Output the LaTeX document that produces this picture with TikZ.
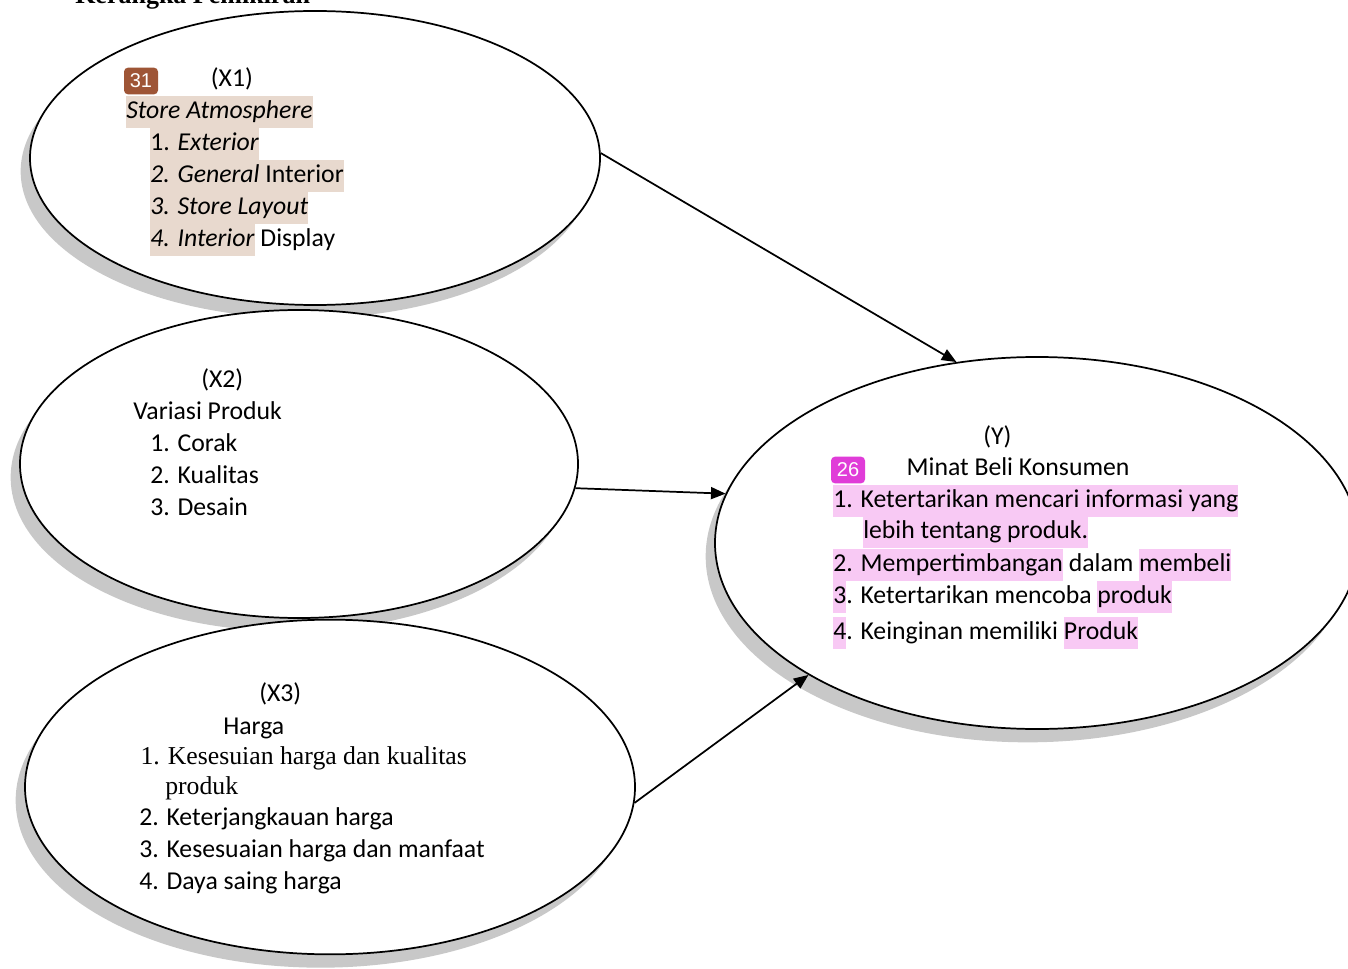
\documentclass[tikz,border=0pt]{standalone}
\usepackage{fontspec}
\setmainfont{Carlito}
\newfontfamily\serifface{Liberation Serif}
\newfontfamily\tagface{Liberation Sans}
\usetikzlibrary{shapes.geometric, arrows.meta, shadows}
\usetikzlibrary{positioning}
\definecolor{hlbrown}{HTML}{E8D9CE}
\definecolor{tagbrown}{HTML}{9E5536}
\definecolor{hlpink}{HTML}{F8C9F4}
\definecolor{tagpink}{HTML}{E03CD8}
\definecolor{shadowgray}{HTML}{C8C8C8}
\newcommand{\hlb}[1]{{\setlength{\fboxsep}{0pt}\colorbox{hlbrown}{\strut #1}}}
\newcommand{\hlp}[1]{{\setlength{\fboxsep}{0pt}\colorbox{hlpink}{\strut #1}}}
\tikzstyle{construct} = [ellipse, draw=black, line width=1.3pt, fill=white, inner sep=0pt, general shadow={fill=shadowgray, shadow xshift=-7pt, shadow yshift=-10pt}]
\tikzstyle{indicators} = [anchor=north west, inner sep=0pt, align=left, font=\fontsize{19.3}{24}\selectfont]
\tikzstyle{tag} = [rectangle, rounded corners=3pt, minimum width=25.5pt, minimum height=20pt, inner sep=0pt, text=white, font=\tagface\fontsize{15}{15}\selectfont]
\tikzstyle{arrow} = [line width=1.3pt, -{Triangle[length=11pt, width=9pt]}]

\begin{document}
\begin{tikzpicture}[x=0.75pt, y=-0.75pt]
        \useasboundingbox (0,0) rectangle (1348,969);
        \clip (0,0) rectangle (1348,969);

        \node (heading) [anchor=base west, inner sep=0pt, font=\serifface\bfseries\fontsize{19.5}{24}\selectfont] at (75,4) {Kerangka Pemikiran};

        \node (xone) [construct, minimum width=427.5pt, minimum height=220.5pt] at (315,158) {};
        \node (xtwo) [construct, minimum width=418.5pt, minimum height=231pt] at (299,464) {};
        \node (xthree) [construct, minimum width=457.5pt, minimum height=251pt] at (330,787) {};
        \node (yvar) [construct, minimum width=483pt, minimum height=279pt] at (1037,543) {};

        \node (xonetext) [indicators] at (124,63.6) {\strut\hspace*{65pt}(X1)\\
                \hspace*{1.5pt}\hlb{\textit{Store Atmosphere}}\\
                \hspace*{19.5pt}\hlb{1. \textit{Exterior}}\\
                \hspace*{19.5pt}\hlb{\textit{2. General} Interior}\\
                \hspace*{19.5pt}\hlb{\textit{3. Store Layout}}\\
                \hspace*{19.5pt}\hlb{\textit{4. Interior}} Display};
        \node (xonetag) [tag, fill=tagbrown] at (141,81) {31};

        \node (xtwotext) [indicators] at (133,364.6) {\strut\hspace*{51pt}(X2)\\
                \strut Variasi Produk\\
                \strut\hspace*{12.75pt}1. Corak\\
                \strut\hspace*{12.75pt}2. Kualitas\\
                \strut\hspace*{12.75pt}3. Desain};

        \node (xthreetext) [indicators] at (139,678.6) {\strut\hspace*{90pt}(X3)\\[0.75pt]
                \strut\hspace*{63pt}Harga\\[-1.5pt]
                \strut\hspace*{1pt}{\serifface 1.\hspace{6pt}Kesesuian harga dan kualitas}\\[-1.5pt]
                \strut\hspace*{19.5pt}{\serifface produk}\\[-0.75pt]
                \strut 2. Keterjangkauan harga\\
                \strut 3. Kesesuaian harga dan manfaat\\
                \strut 4. Daya saing harga};

        \node (ytext) [indicators] at (833,421.6) {\strut\hspace*{112.5pt}(Y)\\[-0.75pt]
                \strut\hspace*{55pt}Minat Beli Konsumen\\
                \hlp{1. Ketertarikan mencari informasi yang}\\[-0.75pt]
                \hspace*{22.5pt}\hlp{lebih tentang produk.}\\[0.75pt]
                \hlp{2. Mempertimbangan} dalam \hlp{membeli}\\
                \hlp{3}. Ketertarikan mencoba \hlp{produk}\\[3pt]
                \hlp{4}. Keinginan memiliki \hlp{Produk}};
        \node (ytag) [tag, fill=tagpink] at (848,470) {26};

        \draw [arrow] (xone.1) -- (yvar.114);
        \draw [arrow] (xtwo.-5) -- (yvar.171);
        \draw [arrow] (xthree.-3) -- (yvar.210);
\end{tikzpicture}
\end{document}
